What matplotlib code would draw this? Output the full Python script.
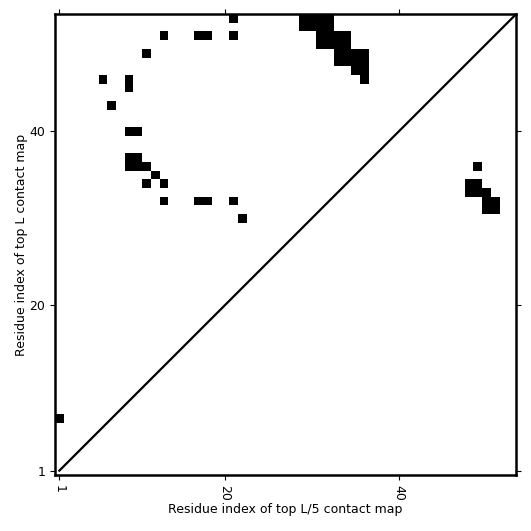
import numpy as np
import matplotlib
matplotlib.use("Agg")
import matplotlib.pyplot as plt

L = 53

# Top L contacts (upper-left triangle): (x = residue i, y = residue j)
topL_x = [1, 6, 7, 9, 9, 9, 10, 9, 10, 9, 10, 11, 12, 11, 13, 13, 17, 18, 21, 22,
          11, 13, 17, 18, 21, 21,
          29, 30, 31, 32, 29, 30, 31, 32,
          31, 32, 33, 34, 31, 32, 33, 34,
          33, 34, 35, 36, 33, 34, 35, 36,
          35, 36, 36]
topL_y = [7, 46, 43, 46, 45, 40, 40, 37, 37, 36, 36, 36, 35, 34, 34, 32, 32, 32, 32, 30,
          49, 51, 51, 51, 51, 53,
          53, 53, 53, 53, 52, 52, 52, 52,
          51, 51, 51, 51, 50, 50, 50, 50,
          49, 49, 49, 49, 48, 48, 48, 48,
          47, 47, 46]

# Top L/5 contacts (lower-right triangle)
topL5_x = [49, 48, 49, 48, 49, 50, 50, 51, 50, 51]
topL5_y = [36, 34, 34, 33, 33, 33, 32, 32, 31, 31]

tick_pos = [1, 20, 40]
tick_labels = ["1", "20", "40"]

mat = np.zeros((L, L))
for x, y in zip(topL_x, topL_y):
    mat[y - 1, x - 1] = 1
for x, y in zip(topL5_x, topL5_y):
    mat[y - 1, x - 1] = 1

fig = plt.figure(figsize=(5.31, 5.31), dpi=100)
ax = fig.add_axes([0.1036, 0.1055, 0.8686, 0.8681])
ax.imshow(mat, cmap="Greys", vmin=0, vmax=1, origin="lower",
          extent=(0.5, L + 0.5, 0.5, L + 0.5), interpolation="nearest", aspect="auto")
ax.plot([1, L + 0.5], [1, L + 0.5], color="black", lw=1.6)
ax.set_xlim(0.5, L + 0.5)
ax.set_ylim(0.5, L + 0.5)
ax.set_xticks(tick_pos)
ax.set_xticklabels(tick_labels, rotation=270)
ax.set_yticks(tick_pos)
ax.set_yticklabels(tick_labels)
ax.tick_params(top=True, right=True, labelsize=9)
for s in ax.spines.values():
    s.set_linewidth(1.8)
ax.set_xlabel("Residue index of top L/5 contact map", fontsize=9, labelpad=2)
ax.set_ylabel("Residue index of top L contact map", fontsize=9, labelpad=1)
fig.savefig("out.png", dpi=100)
